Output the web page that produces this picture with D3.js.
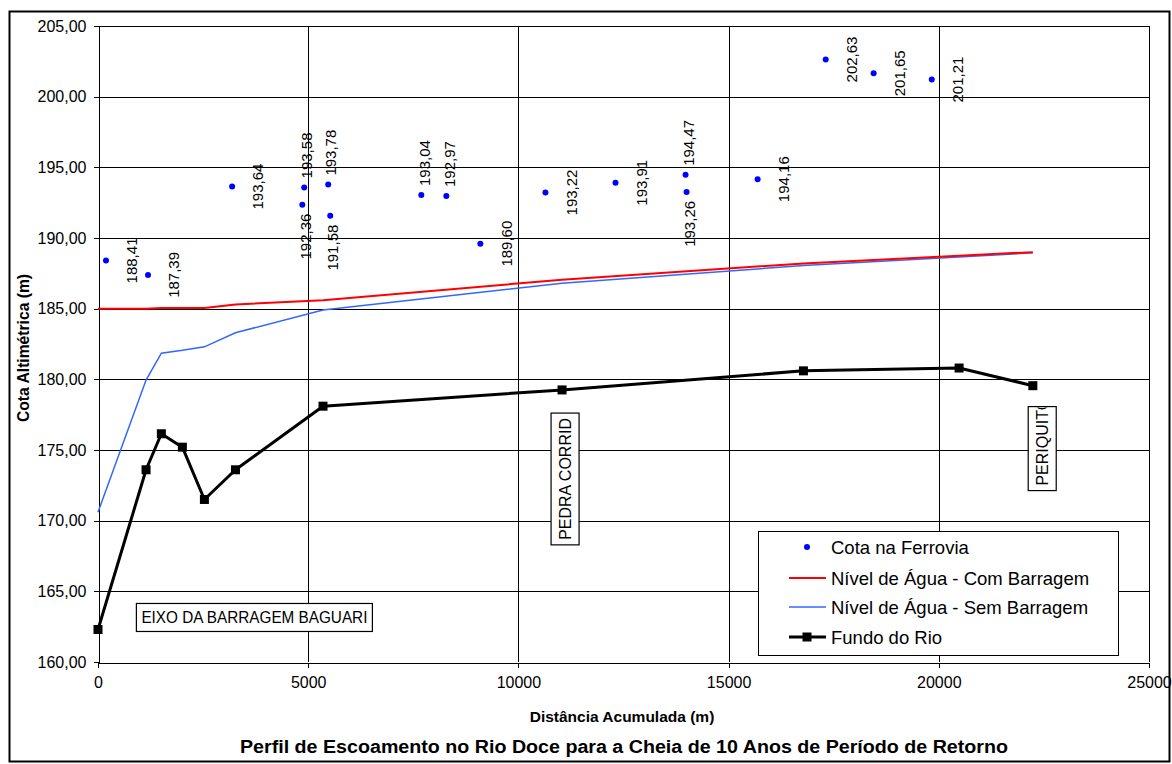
<!DOCTYPE html>
<head>
    <meta charset="utf-8">
    <style>
      body {
          margin: 0;
          background: #fff;
      }
      svg {
          display: block;
          font-family: 'Liberation Sans', Arial, sans-serif;
      }
      .grid line {
          stroke: #000;
          stroke-width: 1px;
          shape-rendering: crispEdges;
      }
      .axis path, .axis line {
          stroke: #000;
          shape-rendering: crispEdges;
      }
      .axis text {
          font-size: 16px;
          fill: #000;
      }
      .ptlabel {
          font-size: 15px;
          fill: #000;
      }
      .note rect {
          fill: #fff;
          stroke: #000;
          stroke-width: 1.2px;
      }
      .note text {
          font-size: 16px;
      }
      .legend text {
          font-size: 18.5px;
      }
  </style>
</head>
<body>
<svg id="chart" width="1172" height="764"></svg>
<script src="https://cdn.jsdelivr.net/npm/d3@7"></script>
<script>
  // stations along the river (m) shared by the three lines
  const stations = [0, 1143, 1507, 2007, 2531, 3270, 5352, 11038, 16780, 20483, 22237];
  const fundoRio = [162.3, 173.6, 176.15, 175.2, 171.5, 173.6, 178.1, 179.25, 180.6, 180.8, 179.55];
  const nivelCom = [185.0, 185.0, 185.05, 185.05, 185.05, 185.3, 185.6, 187.05, 188.2, 188.75, 189.0];
  const nivelSem = [170.6, 179.95, 181.85, 182.05, 182.3, 183.3, 184.9, 186.8, 188.05, 188.65, 188.95];

  // railway heights
  const ferroviaDist = [190, 1190, 3190, 4860, 4905, 5476, 5524, 7690, 8286, 9095, 10643, 12310, 13976, 14000, 15690, 17310, 18450, 19833];
  const ferroviaCota = [188.41, 187.39, 193.64, 192.36, 193.58, 193.78, 191.58, 193.04, 192.97, 189.60, 193.22, 193.91, 194.47, 193.26, 194.16, 202.63, 201.65, 201.21];
  // where each label sits: r = right, a = above, b = below
  const labelSide = ["r", "r", "r", "b", "a", "a", "b", "a", "a", "r", "r", "r", "a", "b", "r", "r", "r", "r"];

  const xTicks = [0, 5000, 10000, 15000, 20000, 25000];
  const yTicks = [160, 165, 170, 175, 180, 185, 190, 195, 200, 205];

  const notes = [
    { text: "EIXO DA BARRAGEM BAGUARI", x: 3720, y: 163.15, vertical: false, len: 226 },
    { text: "PEDRA CORRID", x: 11110, y: 172.95, vertical: true },
    { text: "PERIQUITO", x: 22460, y: 175.1, vertical: true, clipLen: 84 }
  ];

  const seriesNames = ["Cota na Ferrovia", "Nível de Água - Com Barragem", "Nível de Água - Sem Barragem", "Fundo do Rio"];

  const ptBr = d3.formatLocale({ decimal: ",", thousands: ".", grouping: [3], currency: ["", ""] });
  const fmt2 = ptBr.format(".2f");

  const svg = d3.select("#chart");
  const pLeft = 98, pRight = 1149, pTop = 26, pBottom = 662;

  const x = d3.scaleLinear().domain([0, 25000]).range([pLeft, pRight]);
  const y = d3.scaleLinear().domain([160, 205]).range([pBottom, pTop]);

  // outer frame
  svg.append("rect")
      .attr("x", 9.5).attr("y", 11.5)
      .attr("width", 1160).attr("height", 750)
      .attr("fill", "#fff").attr("stroke", "#000").attr("stroke-width", 2);

  // grid
  const grid = svg.append("g").attr("class", "grid");
  grid.selectAll(".h").data(yTicks.slice(1))
    .join("line")
      .attr("x1", pLeft).attr("x2", pRight)
      .attr("y1", d => Math.round(y(d)) + 0.5).attr("y2", d => Math.round(y(d)) + 0.5);
  grid.selectAll(".v").data(xTicks.slice(1))
    .join("line")
      .attr("x1", d => Math.round(x(d)) + 0.5).attr("x2", d => Math.round(x(d)) + 0.5)
      .attr("y1", pTop).attr("y2", pBottom);

  // axes
  svg.append("g")
      .attr("class", "axis")
      .attr("transform", "translate(0," + (pBottom + 0.5) + ")")
      .call(d3.axisBottom(x).tickValues(xTicks).tickFormat(d3.format("d")).tickSizeInner(5).tickSizeOuter(0).tickPadding(9));
  svg.append("g")
      .attr("class", "axis")
      .attr("transform", "translate(" + (pLeft + 0.5) + ",0)")
      .call(d3.axisLeft(y).tickValues(yTicks).tickFormat(fmt2).tickSizeInner(5).tickSizeOuter(0).tickPadding(7));

  // x-axis title
  svg.append("text")
      .attr("x", 622).attr("y", 722)
      .attr("text-anchor", "middle")
      .attr("font-weight", "bold").attr("font-size", 15.5)
      .text("Distância Acumulada (m)");
  // y-axis title
  svg.append("text")
      .attr("transform", "translate(29,348) rotate(-90)")
      .attr("text-anchor", "middle")
      .attr("font-weight", "bold").attr("font-size", 16.5)
      .attr("textLength", 148).attr("lengthAdjust", "spacingAndGlyphs")
      .text("Cota Altimétrica (m)");
  // chart title
  svg.append("text")
      .attr("x", 624).attr("y", 753)
      .attr("text-anchor", "middle")
      .attr("font-weight", "bold").attr("font-size", 17.5)
      .attr("textLength", 768).attr("lengthAdjust", "spacingAndGlyphs")
      .text("Perfil de Escoamento no Rio Doce para a Cheia de 10 Anos de Período de Retorno");

  const line = d3.line()
      .x((d, i) => x(stations[i]))
      .y(d => y(d));

  svg.append("path").datum(nivelSem)
      .attr("d", line).attr("fill", "none")
      .attr("stroke", "#3366ff").attr("stroke-width", 1.5);
  svg.append("path").datum(nivelCom)
      .attr("d", line).attr("fill", "none")
      .attr("stroke", "#ff0000").attr("stroke-width", 2);
  svg.append("path").datum(fundoRio)
      .attr("d", line).attr("fill", "none")
      .attr("stroke", "#000").attr("stroke-width", 3).attr("stroke-linejoin", "round");
  svg.append("g").selectAll("rect").data(fundoRio)
    .join("rect")
      .attr("x", (d, i) => x(stations[i]) - 4.5)
      .attr("y", d => y(d) - 4.5)
      .attr("width", 9).attr("height", 9)
      .attr("fill", "#000");

  // railway points and their labels
  svg.append("g").selectAll("circle").data(ferroviaCota)
    .join("circle")
      .attr("cx", (d, i) => x(ferroviaDist[i]))
      .attr("cy", d => y(d))
      .attr("r", 3)
      .attr("fill", "#0000ff");

  svg.append("g").selectAll("text").data(ferroviaCota)
    .join("text")
      .attr("class", "ptlabel")
      .attr("transform", (d, i) => {
        const px = x(ferroviaDist[i]), py = y(d), s = labelSide[i];
        if (s === "r") return "translate(" + (px + 26) + "," + py + ") rotate(-90)";
        if (s === "a") return "translate(" + (px + 3) + "," + (py - 9) + ") rotate(-90)";
        return "translate(" + (px + 3) + "," + (py + 9) + ") rotate(-90)";
      })
      .attr("text-anchor", (d, i) => labelSide[i] === "r" ? "middle" : (labelSide[i] === "a" ? "start" : "end"))
      .attr("dy", "0.35em")
      .text(d => fmt2(d));

  // place-name boxes
  const noteG = svg.append("g").attr("class", "note");
  notes.forEach((n, k) => {
    const g = noteG.append("g")
        .attr("transform", "translate(" + x(n.x) + "," + y(n.y) + ")" + (n.vertical ? " rotate(-90)" : ""));
    const t = g.append("text")
        .attr("text-anchor", "middle")
        .attr("dy", "0.36em")
        .text(n.text);
    if (n.len) t.attr("textLength", n.len).attr("lengthAdjust", "spacingAndGlyphs");
    let w = (n.len || t.node().getComputedTextLength()) + 10;
    if (n.clipLen) w = n.clipLen;
    g.insert("rect", "text")
        .attr("x", -w / 2).attr("y", -14)
        .attr("width", w).attr("height", 28);
    if (n.clipLen) {
      g.append("clipPath").attr("id", "clip" + k)
        .append("rect").attr("x", -w / 2 + 1).attr("y", -14).attr("width", w - 2).attr("height", 28);
      t.attr("text-anchor", "start").attr("x", -w / 2 + 5).attr("clip-path", "url(#clip" + k + ")");
    }
  });

  // legend
  const lg = svg.append("g").attr("class", "legend").attr("transform", "translate(758,531)");
  lg.append("rect")
      .attr("x", 0.5).attr("y", 0.5)
      .attr("width", 360).attr("height", 124)
      .attr("fill", "#fff").attr("stroke", "#000").attr("stroke-width", 1);
  const rowY = [16, 47, 76, 106];
  lg.append("circle").attr("cx", 49).attr("cy", rowY[0]).attr("r", 3).attr("fill", "#0000ff");
  lg.append("line").attr("x1", 31).attr("x2", 68).attr("y1", rowY[1]).attr("y2", rowY[1])
      .attr("stroke", "#ff0000").attr("stroke-width", 2);
  lg.append("line").attr("x1", 31).attr("x2", 68).attr("y1", rowY[2]).attr("y2", rowY[2])
      .attr("stroke", "#3366ff").attr("stroke-width", 1.5);
  lg.append("line").attr("x1", 31).attr("x2", 68).attr("y1", rowY[3]).attr("y2", rowY[3])
      .attr("stroke", "#000").attr("stroke-width", 3);
  lg.append("rect").attr("x", 44.5).attr("y", rowY[3] - 4.5).attr("width", 9).attr("height", 9).attr("fill", "#000");
  lg.selectAll("text.item").data(seriesNames)
    .join("text")
      .attr("x", 73)
      .attr("y", (d, i) => rowY[i])
      .attr("dy", "0.36em")
      .text(d => d);
</script>
</body>
